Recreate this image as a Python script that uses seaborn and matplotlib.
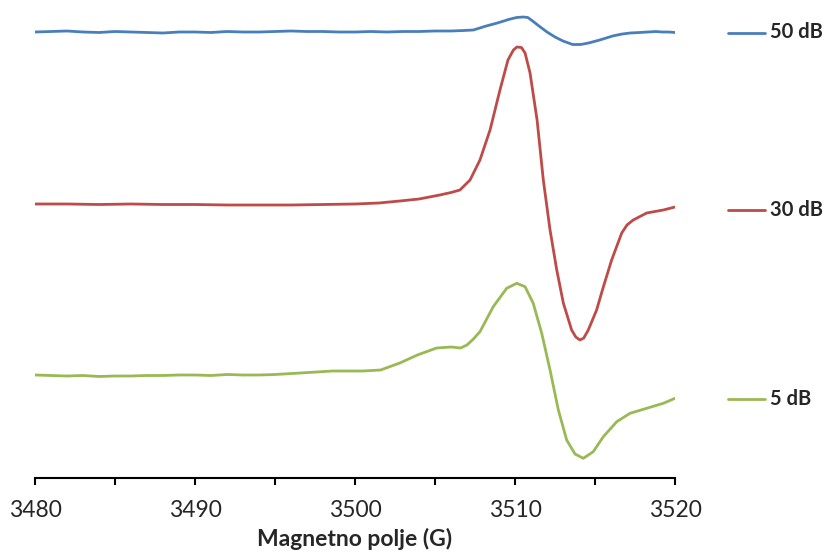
import pandas as pd
import numpy as np
import matplotlib
matplotlib.use("Agg")
import matplotlib.pyplot as plt
import matplotlib.transforms as mtransforms
import seaborn as sns

## Data (field in G, intensity in arbitrary units)
field_50 = [3480, 3481, 3482, 3483, 3484, 3485, 3486, 3487, 3488, 3489, 3490, 3491, 3492, 3493,
            3494, 3495, 3496, 3497, 3498, 3499, 3500, 3501, 3502, 3503, 3504, 3505, 3506,
            3506.8, 3507.4, 3508.2, 3508.9, 3509.6, 3510.1, 3510.5, 3510.8, 3511.1, 3511.5,
            3512, 3512.5, 3513.0, 3513.6, 3514.1, 3514.6, 3515.3, 3516.1, 3516.7, 3517.2,
            3517.8, 3518.3, 3518.8, 3519.2, 3519.6, 3520]
signal_50 = [446, 446.5, 447, 446, 445.5, 446.5, 446, 445.5, 445, 446, 446, 445.5, 446.5, 446,
             446, 446.5, 447, 446.5, 446.5, 446, 446, 446.5, 446, 446.5, 446.5, 447, 447,
             447.5, 448, 452, 455, 458.5, 460.5, 461, 460.5, 457, 452,
             446, 441, 437, 433.5, 433.5, 435, 438, 442, 444, 445,
             445.5, 446, 446.5, 446, 446, 445.5]

field_30 = [3480, 3482, 3484, 3486, 3488, 3490, 3492, 3494, 3496, 3498, 3500, 3501.5, 3502.8,
            3504.0, 3505.3, 3506.0, 3506.56, 3507.19, 3507.81, 3508.44, 3509.06, 3509.56,
            3509.9, 3510.12, 3510.4, 3510.63, 3510.94, 3511.38, 3511.77, 3512.19, 3512.61,
            3513.02, 3513.54, 3513.8, 3514.06, 3514.3, 3514.58, 3515.1, 3515.52, 3516.04,
            3516.67, 3517.0, 3517.39, 3518.23, 3519.27, 3520]
signal_30 = [274, 274, 273.5, 274, 273.5, 273.5, 273, 273, 273, 273.5, 274, 275, 277,
             279, 283, 285.5, 288, 298, 318, 348, 388, 418,
             428, 431, 430.5, 425, 405, 358, 298, 248, 208,
             175, 148, 141, 138, 140, 148, 168, 191, 218,
             245, 253, 258, 265, 268, 271]

field_5 = [3480, 3481, 3482, 3483, 3484, 3485, 3486, 3487, 3488, 3489, 3490, 3491, 3492, 3493,
           3494, 3495, 3496.6, 3498.6, 3500.5, 3501.6, 3502.8, 3503.9, 3505.1, 3506.0, 3506.6,
           3507.0, 3507.4, 3507.81, 3508.64, 3509.48, 3510.11, 3510.63, 3511.14, 3511.67,
           3512.19, 3512.71, 3513.23, 3513.75, 3514.27, 3514.89, 3515.52, 3516.36, 3517.19,
           3518.23, 3519.27, 3520]
signal_5 = [103, 102.5, 102, 102.5, 101.5, 102, 102, 102.5, 102.5, 103, 103, 102.5, 103.5, 103,
            103, 103.5, 105, 107, 107, 108, 115, 123, 130, 131, 130,
            133, 139, 146.3, 171.3, 189.7, 194.7, 191.3, 174.7, 144.7,
            108, 68, 38, 24, 19.7, 26.3, 41.3, 56.3, 64.7,
            69.7, 74.7, 79.7]

labels = ['50 dB', '30 dB', '5 dB']
colors = ['#4a7ebb', '#be4b48', '#98b954']
x_ticks = [3480, 3490, 3500, 3510, 3520]

df = pd.concat([
    pd.DataFrame({'field': field_50, 'signal': signal_50, 'att': labels[0]}),
    pd.DataFrame({'field': field_30, 'signal': signal_30, 'att': labels[1]}),
    pd.DataFrame({'field': field_5, 'signal': signal_5, 'att': labels[2]}),
])

##Plotting
sns.set_style("white")
plt.rcParams['font.family'] = ['Lato', 'DejaVu Sans']

fig = plt.figure(figsize=(8.26, 5.56), dpi=100)
ax = fig.add_axes([35 / 826, 78 / 556, 640 / 826, 470 / 556])

sns.lineplot(data=df, x='field', y='signal', hue='att', palette=colors,
             estimator=None, sort=False, linewidth=2.0, legend=False, ax=ax)

ax.set_xlim(3480, 3520)
ax.set_ylim(0, 470)
ax.set_xticks(x_ticks)
ax.set_xticks(np.arange(3485, 3520, 10), minor=True)
ax.set_yticks([])
ax.tick_params(axis='x', which='both', direction='out', length=5, width=1.5,
               color='black', bottom=True, labelsize=16.5, pad=11)
ax.set_xlabel('Magnetno polje (G)', fontsize=16.5, fontweight='bold', labelpad=5)
ax.set_ylabel('')
sns.despine(ax=ax, left=True)
ax.spines['bottom'].set_color('black')
ax.spines['bottom'].set_linewidth(1.5)

# labels on the right, drawn like legend keys next to each trace end
trans = mtransforms.blended_transform_factory(fig.transFigure, ax.transData)
ends = [signal_50[-1], signal_30[-1] - 3, signal_5[-1] - 1]
for lab, col, yv in zip(labels, colors, ends):
    ax.plot([728 / 826, 765 / 826], [yv, yv], color=col, linewidth=2.0,
            transform=trans, clip_on=False)
    ax.text(770 / 826, yv, lab, transform=trans, fontsize=14.5, fontweight='bold',
            va='center', ha='left')

fig.savefig('out.png', dpi=100)
